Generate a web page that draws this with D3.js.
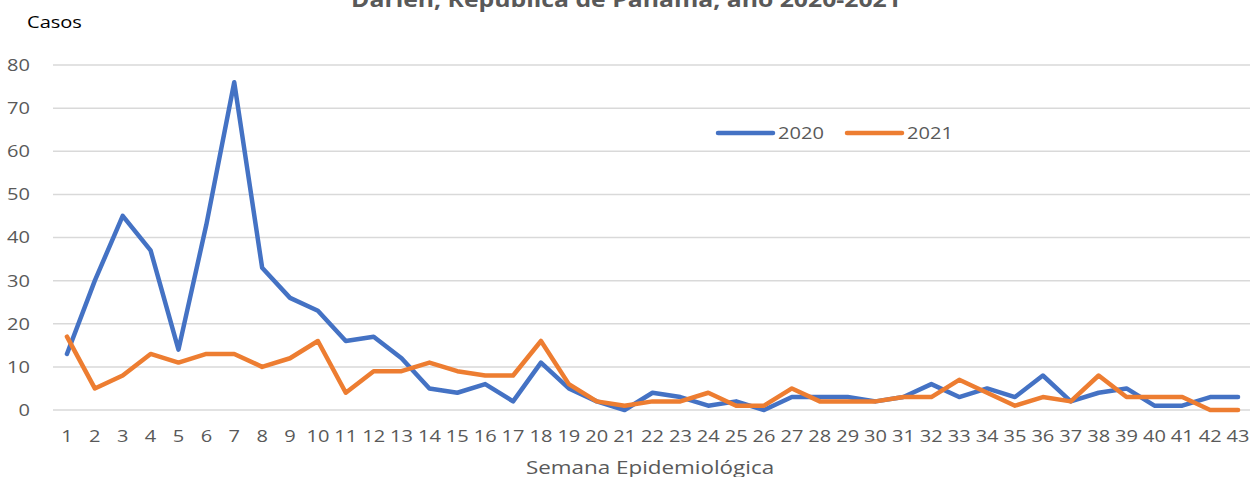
<!DOCTYPE html>
<html>
<head>
<meta charset="utf-8">
<script src="https://cdn.jsdelivr.net/npm/d3@7"></script>
<style>
  body { margin: 0; background: #fff; }
  svg { display: block; font-family: "Open Sans", sans-serif; }
</style>
</head>
<body>
<div id="chart"></div>
<script>
// semanas epidemiologicas 1..43
var weeks = d3.range(1, 44);
var cases2020 = [13, 30, 45, 37, 14, 43, 76, 33, 26, 23, 16, 17, 12, 5, 4, 6, 2, 11, 5, 2,
  0, 4, 3, 1, 2, 0, 3, 3, 3, 2, 3, 6, 3, 5, 3, 8, 2, 4, 5, 1, 1, 3, 3];
var cases2021 = [17, 5, 8, 13, 11, 13, 13, 10, 12, 16, 4, 9, 9, 11, 9, 8, 8, 16, 6, 2,
  1, 2, 2, 4, 1, 1, 5, 2, 2, 2, 3, 3, 7, 4, 1, 3, 2, 8, 3, 3, 3, 0, 0];
var yTicks = [0, 10, 20, 30, 40, 50, 60, 70, 80];
var seriesNames = ['2020', '2021'];
var colors = ['#4472C4', '#ED7D31'];

var width = 1250;
var height = 477;
var stretch = 1.18; // the original text is a bit wide

var x = d3.scaleBand().domain(weeks).range([53, 1252]);
var y = d3.scaleLinear().domain([0, 80]).range([410, 65]);

var svg = d3.select('#chart').append('svg')
  .attr('width', width)
  .attr('height', height);

// helper for the wide-looking texts
function wideText(px, py, txt, size) {
  return svg.append('text')
    .attr('transform', 'translate(' + px + ',' + py + ') scale(' + stretch + ',1)')
    .style('font-size', size + 'px')
    .text(txt);
}

// gridlines
svg.append('g').selectAll('line')
  .data(yTicks)
  .enter().append('line')
  .attr('x1', 53)
  .attr('x2', 1252)
  .attr('y1', function (d) { return y(d); })
  .attr('y2', function (d) { return y(d); })
  .attr('stroke', '#d9d9d9')
  .attr('stroke-width', 1.5);

// y axis labels
var yAxis = d3.axisLeft(y).tickValues(yTicks).tickSize(0).tickPadding(0);
svg.append('g')
  .attr('transform', 'translate(30, 0)')
  .call(yAxis)
  .call(function (g) { g.select('.domain').remove(); })
  .selectAll('text')
  .attr('fill', '#595959')
  .attr('transform', 'scale(' + stretch + ',1)')
  .style('font-size', '17px')
  .style('font-family', '"Open Sans", sans-serif');

// x axis labels
var xAxis = d3.axisBottom(x).tickSize(0).tickPadding(0);
svg.append('g')
  .attr('transform', 'translate(0, 430)')
  .call(xAxis)
  .call(function (g) { g.select('.domain').remove(); })
  .selectAll('text')
  .attr('fill', '#595959')
  .attr('transform', 'scale(' + stretch + ',1)')
  .style('font-size', '17px')
  .style('font-family', '"Open Sans", sans-serif');

// lines
var line = d3.line()
  .x(function (d, i) { return x(weeks[i]) + x.bandwidth() / 2; })
  .y(function (d) { return y(d); });

[cases2020, cases2021].forEach(function (s, i) {
  svg.append('path')
    .datum(s)
    .attr('fill', 'none')
    .attr('stroke', colors[i])
    .attr('stroke-width', 4.5)
    .attr('stroke-linejoin', 'round')
    .attr('stroke-linecap', 'round')
    .attr('d', line);
});

// legend
var legX = [718, 847];
seriesNames.forEach(function (name, i) {
  svg.append('line')
    .attr('x1', legX[i]).attr('x2', legX[i] + 55)
    .attr('y1', 133).attr('y2', 133)
    .attr('stroke', colors[i])
    .attr('stroke-width', 4.5)
    .attr('stroke-linecap', 'round');
  wideText(legX[i] + 60, 139, name, 17).attr('fill', '#595959');
});

// title (cut at the top in the original)
wideText(626, 7, 'Darién, República de Panamá, año 2020-2021', 21)
  .attr('text-anchor', 'middle')
  .attr('fill', '#595959')
  .style('font-weight', 'bold');

wideText(27, 28, 'Casos', 17).attr('fill', '#000');

wideText(650, 474, 'Semana Epidemiológica', 19)
  .attr('text-anchor', 'middle')
  .attr('fill', '#595959');
</script>
</body>
</html>
